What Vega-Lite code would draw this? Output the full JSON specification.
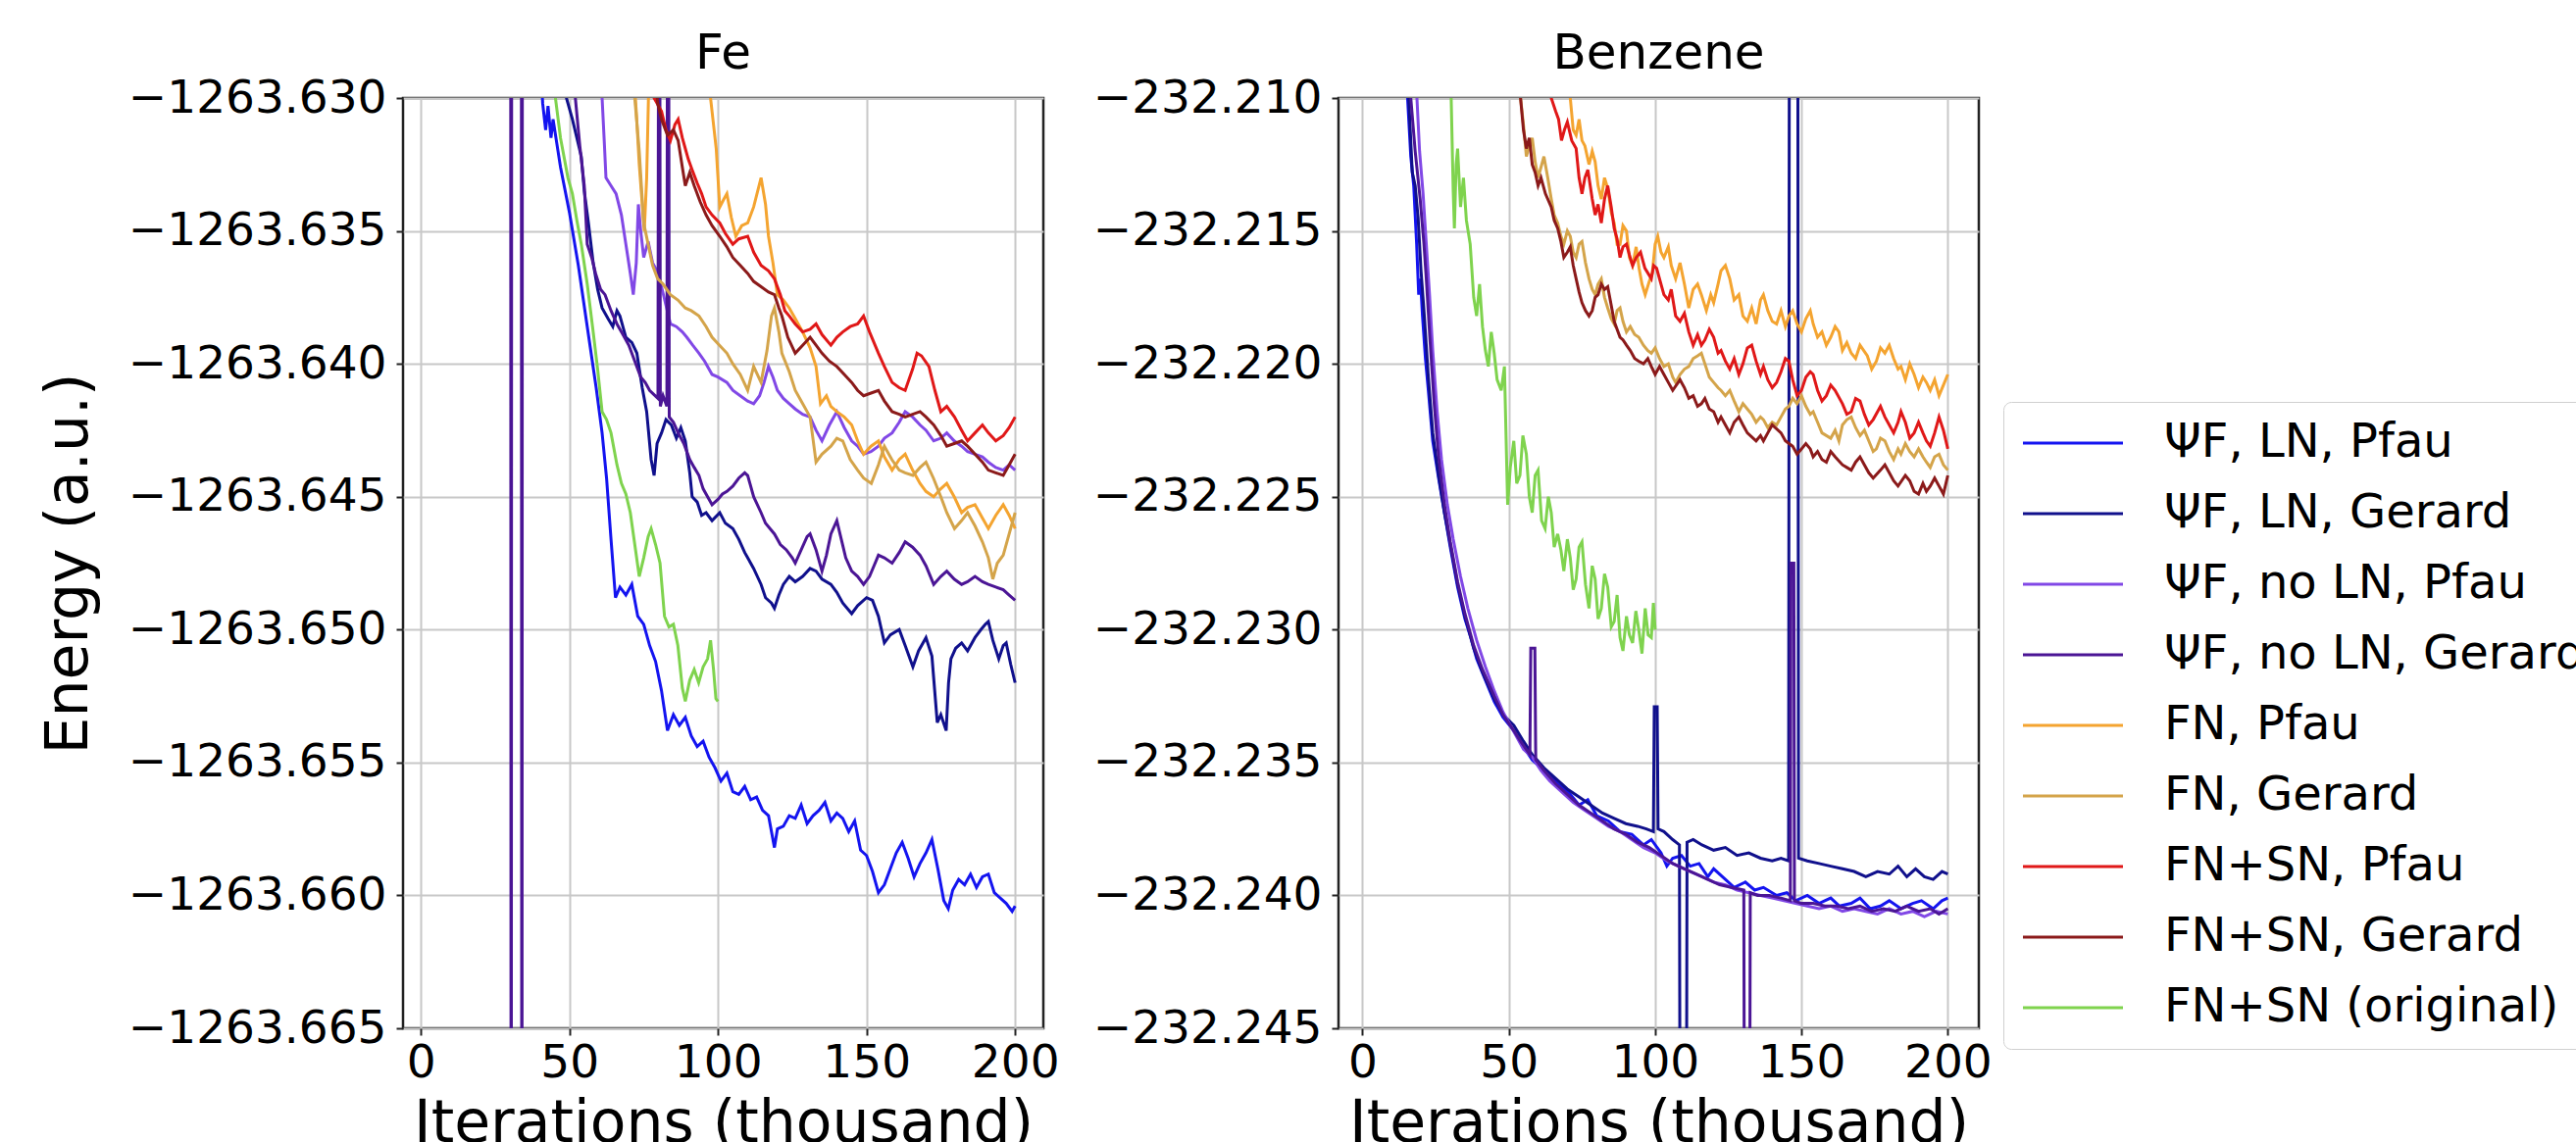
{
"$schema":"https://vega.github.io/schema/vega-lite/v6.json",
"background":"white",
"padding":{"left":38,"top":28,"right":0,"bottom":0},
"config":{
"font":"DejaVu Sans",
"view":{"stroke":"#222222","strokeWidth":2.5},
"axis":{"labelFont":"DejaVu Sans","labelFontSize":47,"labelColor":"#000000","labelLimit":0,"titleFont":"DejaVu Sans","titleFontSize":60,"titleFontWeight":"normal","titleColor":"#000000","titleLimit":0,"grid":true,"gridColor":"#c8c8c8","gridWidth":2,"domain":false,"tickColor":"#222222","tickWidth":2,"tickSize":7,"labelOverlap":false,"labelFlush":false},
"title":{"font":"DejaVu Sans","fontSize":50,"fontWeight":"normal","color":"#000000","baseline":"alphabetic","offset":-4,"anchor":"middle"},
"legend":{"orient":"none","legendX":1632,"legendY":310,"title":null,"symbolType":"M-1,0H3.636","symbolSize":1936,"symbolStrokeWidth":3,"labelFont":"DejaVu Sans","labelFontSize":48,"labelColor":"#000000","labelOffset":98,"padding":18,"rowPadding":24,"strokeColor":"#d0d0d0","fillColor":"#ffffff","cornerRadius":8,"labelLimit":0}
},
"datasets":{
"names":[{"s":"a","name":"ΨF, LN, Pfau"},{"s":"b","name":"ΨF, LN, Gerard"},{"s":"c","name":"ΨF, no LN, Pfau"},{"s":"d","name":"ΨF, no LN, Gerard"},{"s":"e","name":"FN, Pfau"},{"s":"f","name":"FN, Gerard"},{"s":"g","name":"FN+SN, Pfau"},{"s":"h","name":"FN+SN, Gerard"},{"s":"i","name":"FN+SN (original)"}],
"fe":[
{"s":"a","x":39.5,"e":-1263.627},{"s":"a","x":41,"e":-1263.6302},{"s":"a","x":42,"e":-1263.6312},{"s":"a","x":42.8,"e":-1263.6303},{"s":"a","x":43.8,"e":-1263.6315},{"s":"a","x":44.5,"e":-1263.6308},{"s":"a","x":47,"e":-1263.6326},{"s":"a","x":50,"e":-1263.6343},{"s":"a","x":53,"e":-1263.6363},{"s":"a","x":56,"e":-1263.6386},{"s":"a","x":59,"e":-1263.6409},{"s":"a","x":61,"e":-1263.6426},{"s":"a","x":62.5,"e":-1263.6443},{"s":"a","x":64,"e":-1263.6466},{"s":"a","x":65.5,"e":-1263.6488},{"s":"a","x":67,"e":-1263.6484},{"s":"a","x":69,"e":-1263.6487},{"s":"a","x":71,"e":-1263.6483},{"s":"a","x":73,"e":-1263.6495},{"s":"a","x":75,"e":-1263.6498},{"s":"a","x":77,"e":-1263.6506},{"s":"a","x":79,"e":-1263.6512},{"s":"a","x":81,"e":-1263.6523},{"s":"a","x":83,"e":-1263.6538},{"s":"a","x":85,"e":-1263.6532},{"s":"a","x":87,"e":-1263.6536},{"s":"a","x":89,"e":-1263.6533},{"s":"a","x":91,"e":-1263.654},{"s":"a","x":93,"e":-1263.6544},{"s":"a","x":95,"e":-1263.6542},{"s":"a","x":97,"e":-1263.6548},{"s":"a","x":99,"e":-1263.6552},{"s":"a","x":101,"e":-1263.6557},{"s":"a","x":103,"e":-1263.6554},{"s":"a","x":105,"e":-1263.6561},{"s":"a","x":107,"e":-1263.6562},{"s":"a","x":109,"e":-1263.6559},{"s":"a","x":111,"e":-1263.6564},{"s":"a","x":113,"e":-1263.6563},{"s":"a","x":115,"e":-1263.6568},{"s":"a","x":117,"e":-1263.657},{"s":"a","x":119,"e":-1263.6582},{"s":"a","x":120,"e":-1263.6575},{"s":"a","x":122,"e":-1263.6574},{"s":"a","x":124,"e":-1263.657},{"s":"a","x":126,"e":-1263.6571},{"s":"a","x":128,"e":-1263.6566},{"s":"a","x":130,"e":-1263.6573},{"s":"a","x":132,"e":-1263.657},{"s":"a","x":134,"e":-1263.6568},{"s":"a","x":136,"e":-1263.6565},{"s":"a","x":138,"e":-1263.6572},{"s":"a","x":140,"e":-1263.6569},{"s":"a","x":142,"e":-1263.6571},{"s":"a","x":144,"e":-1263.6576},{"s":"a","x":146,"e":-1263.6572},{"s":"a","x":148,"e":-1263.6583},{"s":"a","x":150,"e":-1263.6585},{"s":"a","x":152,"e":-1263.6591},{"s":"a","x":154,"e":-1263.6599},{"s":"a","x":156,"e":-1263.6596},{"s":"a","x":158,"e":-1263.659},{"s":"a","x":160,"e":-1263.6584},{"s":"a","x":162,"e":-1263.658},{"s":"a","x":164,"e":-1263.6586},{"s":"a","x":166,"e":-1263.6593},{"s":"a","x":168,"e":-1263.6588},{"s":"a","x":170,"e":-1263.6584},{"s":"a","x":172,"e":-1263.6579},{"s":"a","x":174,"e":-1263.659},{"s":"a","x":176,"e":-1263.6602},{"s":"a","x":177.5,"e":-1263.6605},{"s":"a","x":179,"e":-1263.6598},{"s":"a","x":181,"e":-1263.6594},{"s":"a","x":183,"e":-1263.6596},{"s":"a","x":185,"e":-1263.6592},{"s":"a","x":187,"e":-1263.6597},{"s":"a","x":189,"e":-1263.6593},{"s":"a","x":191,"e":-1263.6592},{"s":"a","x":193,"e":-1263.6599},{"s":"a","x":195,"e":-1263.6601},{"s":"a","x":197,"e":-1263.6603},{"s":"a","x":199,"e":-1263.6606},{"s":"a","x":200,"e":-1263.6604},
{"s":"b","x":47.5,"e":-1263.628},{"s":"b","x":49,"e":-1263.63},{"s":"b","x":51,"e":-1263.6308},{"s":"b","x":52.5,"e":-1263.6315},{"s":"b","x":54,"e":-1263.6322},{"s":"b","x":55,"e":-1263.6335},{"s":"b","x":56.4,"e":-1263.6347},{"s":"b","x":58,"e":-1263.6362},{"s":"b","x":59.5,"e":-1263.6372},{"s":"b","x":61,"e":-1263.6379},{"s":"b","x":63,"e":-1263.6383},{"s":"b","x":64.6,"e":-1263.6386},{"s":"b","x":66,"e":-1263.638},{"s":"b","x":67,"e":-1263.6382},{"s":"b","x":69,"e":-1263.639},{"s":"b","x":71,"e":-1263.6392},{"s":"b","x":72.7,"e":-1263.6396},{"s":"b","x":74.5,"e":-1263.6409},{"s":"b","x":76,"e":-1263.6418},{"s":"b","x":77.5,"e":-1263.6436},{"s":"b","x":78.5,"e":-1263.6442},{"s":"b","x":79.5,"e":-1263.643},{"s":"b","x":81,"e":-1263.6426},{"s":"b","x":82.5,"e":-1263.6421},{"s":"b","x":84.3,"e":-1263.6423},{"s":"b","x":86,"e":-1263.6428},{"s":"b","x":87.5,"e":-1263.6424},{"s":"b","x":89,"e":-1263.6429},{"s":"b","x":90.5,"e":-1263.6441},{"s":"b","x":91.3,"e":-1263.645},{"s":"b","x":93,"e":-1263.6452},{"s":"b","x":94.5,"e":-1263.6457},{"s":"b","x":96,"e":-1263.6456},{"s":"b","x":98,"e":-1263.6459},{"s":"b","x":100.6,"e":-1263.6456},{"s":"b","x":102.5,"e":-1263.646},{"s":"b","x":105,"e":-1263.6462},{"s":"b","x":107,"e":-1263.6466},{"s":"b","x":109,"e":-1263.6471},{"s":"b","x":110,"e":-1263.6473},{"s":"b","x":112,"e":-1263.6477},{"s":"b","x":114.5,"e":-1263.6483},{"s":"b","x":116,"e":-1263.6488},{"s":"b","x":118,"e":-1263.649},{"s":"b","x":119,"e":-1263.6492},{"s":"b","x":120.5,"e":-1263.6487},{"s":"b","x":122,"e":-1263.6483},{"s":"b","x":124,"e":-1263.648},{"s":"b","x":126,"e":-1263.6482},{"s":"b","x":128.5,"e":-1263.648},{"s":"b","x":131,"e":-1263.6477},{"s":"b","x":133,"e":-1263.6478},{"s":"b","x":135,"e":-1263.6481},{"s":"b","x":138,"e":-1263.6483},{"s":"b","x":140,"e":-1263.6486},{"s":"b","x":142,"e":-1263.649},{"s":"b","x":145,"e":-1263.6494},{"s":"b","x":147,"e":-1263.6491},{"s":"b","x":150,"e":-1263.6488},{"s":"b","x":152,"e":-1263.6489},{"s":"b","x":154,"e":-1263.6495},{"s":"b","x":156,"e":-1263.6505},{"s":"b","x":158,"e":-1263.6502},{"s":"b","x":161,"e":-1263.65},{"s":"b","x":163,"e":-1263.6506},{"s":"b","x":165.6,"e":-1263.6514},{"s":"b","x":167.5,"e":-1263.6508},{"s":"b","x":170,"e":-1263.6503},{"s":"b","x":172,"e":-1263.651},{"s":"b","x":173.8,"e":-1263.6535},{"s":"b","x":175,"e":-1263.6532},{"s":"b","x":176.8,"e":-1263.6538},{"s":"b","x":177.6,"e":-1263.652},{"s":"b","x":178.4,"e":-1263.6511},{"s":"b","x":180,"e":-1263.6507},{"s":"b","x":182,"e":-1263.6505},{"s":"b","x":184,"e":-1263.6508},{"s":"b","x":186.5,"e":-1263.6503},{"s":"b","x":188.5,"e":-1263.65},{"s":"b","x":190,"e":-1263.6498},{"s":"b","x":191,"e":-1263.6497},{"s":"b","x":192.5,"e":-1263.6504},{"s":"b","x":194.5,"e":-1263.6511},{"s":"b","x":196,"e":-1263.6506},{"s":"b","x":197,"e":-1263.6505},{"s":"b","x":198.5,"e":-1263.6513},{"s":"b","x":200,"e":-1263.652},
{"s":"c","x":59.5,"e":-1263.628},{"s":"c","x":61,"e":-1263.63},{"s":"c","x":61.8,"e":-1263.6318},{"s":"c","x":62.3,"e":-1263.633},{"s":"c","x":64,"e":-1263.6333},{"s":"c","x":65.7,"e":-1263.6336},{"s":"c","x":67.5,"e":-1263.6344},{"s":"c","x":69,"e":-1263.6355},{"s":"c","x":70.5,"e":-1263.6366},{"s":"c","x":71.5,"e":-1263.6374},{"s":"c","x":72.5,"e":-1263.6362},{"s":"c","x":73.2,"e":-1263.634},{"s":"c","x":74,"e":-1263.635},{"s":"c","x":75,"e":-1263.636},{"s":"c","x":76.5,"e":-1263.6354},{"s":"c","x":78,"e":-1263.6362},{"s":"c","x":79.5,"e":-1263.6365},{"s":"c","x":81,"e":-1263.6371},{"s":"c","x":82.5,"e":-1263.6378},{"s":"c","x":84,"e":-1263.6385},{"s":"c","x":86,"e":-1263.6386},{"s":"c","x":88,"e":-1263.6388},{"s":"c","x":89.5,"e":-1263.639},{"s":"c","x":91.5,"e":-1263.6393},{"s":"c","x":93.6,"e":-1263.6396},{"s":"c","x":95.5,"e":-1263.6399},{"s":"c","x":98,"e":-1263.6404},{"s":"c","x":100,"e":-1263.6405},{"s":"c","x":103,"e":-1263.6407},{"s":"c","x":105,"e":-1263.641},{"s":"c","x":107.5,"e":-1263.6412},{"s":"c","x":110,"e":-1263.6414},{"s":"c","x":112,"e":-1263.6415},{"s":"c","x":114,"e":-1263.6412},{"s":"c","x":115.5,"e":-1263.6407},{"s":"c","x":117,"e":-1263.6401},{"s":"c","x":118.5,"e":-1263.6405},{"s":"c","x":120,"e":-1263.641},{"s":"c","x":122,"e":-1263.6413},{"s":"c","x":124,"e":-1263.6415},{"s":"c","x":126,"e":-1263.6417},{"s":"c","x":128.5,"e":-1263.6419},{"s":"c","x":131,"e":-1263.642},{"s":"c","x":133,"e":-1263.6425},{"s":"c","x":135,"e":-1263.6429},{"s":"c","x":137.5,"e":-1263.6423},{"s":"c","x":140,"e":-1263.6418},{"s":"c","x":142.5,"e":-1263.6424},{"s":"c","x":145,"e":-1263.6429},{"s":"c","x":147,"e":-1263.6431},{"s":"c","x":149,"e":-1263.6434},{"s":"c","x":151.5,"e":-1263.6433},{"s":"c","x":154,"e":-1263.6431},{"s":"c","x":156,"e":-1263.6428},{"s":"c","x":158.6,"e":-1263.6426},{"s":"c","x":161,"e":-1263.6422},{"s":"c","x":163,"e":-1263.6418},{"s":"c","x":165.5,"e":-1263.642},{"s":"c","x":168,"e":-1263.6423},{"s":"c","x":170,"e":-1263.6425},{"s":"c","x":172.6,"e":-1263.6429},{"s":"c","x":175,"e":-1263.6428},{"s":"c","x":177,"e":-1263.6426},{"s":"c","x":179.5,"e":-1263.6429},{"s":"c","x":182,"e":-1263.6431},{"s":"c","x":184,"e":-1263.6433},{"s":"c","x":186.5,"e":-1263.6434},{"s":"c","x":189,"e":-1263.6435},{"s":"c","x":191,"e":-1263.6437},{"s":"c","x":193.5,"e":-1263.6439},{"s":"c","x":196,"e":-1263.644},{"s":"c","x":198,"e":-1263.6438},{"s":"c","x":200,"e":-1263.644},
{"s":"d","x":4,"e":-1263.61},{"s":"d","x":30.2,"e":-1263.61},{"s":"d","x":30.4,"e":-1263.69},{"s":"d","x":30.6,"e":-1263.61},{"s":"d","x":33.8,"e":-1263.61},{"s":"d","x":34,"e":-1263.69},{"s":"d","x":34.2,"e":-1263.61},{"s":"d","x":50.5,"e":-1263.628},{"s":"d","x":52,"e":-1263.63},{"s":"d","x":53.5,"e":-1263.6318},{"s":"d","x":55,"e":-1263.6333},{"s":"d","x":56,"e":-1263.6355},{"s":"d","x":57.5,"e":-1263.636},{"s":"d","x":58.8,"e":-1263.6366},{"s":"d","x":60.5,"e":-1263.6372},{"s":"d","x":62,"e":-1263.6374},{"s":"d","x":64,"e":-1263.638},{"s":"d","x":66,"e":-1263.6385},{"s":"d","x":68,"e":-1263.6389},{"s":"d","x":70,"e":-1263.6393},{"s":"d","x":72,"e":-1263.6399},{"s":"d","x":74,"e":-1263.6405},{"s":"d","x":75.5,"e":-1263.6407},{"s":"d","x":77,"e":-1263.641},{"s":"d","x":79.8,"e":-1263.6413},{"s":"d","x":80,"e":-1263.625},{"s":"d","x":80.4,"e":-1263.625},{"s":"d","x":80.6,"e":-1263.6416},{"s":"d","x":81.5,"e":-1263.6412},{"s":"d","x":82.8,"e":-1263.6416},{"s":"d","x":83,"e":-1263.625},{"s":"d","x":83.4,"e":-1263.625},{"s":"d","x":83.6,"e":-1263.642},{"s":"d","x":85,"e":-1263.6422},{"s":"d","x":86.6,"e":-1263.6426},{"s":"d","x":88.5,"e":-1263.643},{"s":"d","x":90.5,"e":-1263.6436},{"s":"d","x":92,"e":-1263.6439},{"s":"d","x":93.6,"e":-1263.6442},{"s":"d","x":95,"e":-1263.6447},{"s":"d","x":96.5,"e":-1263.645},{"s":"d","x":98,"e":-1263.6453},{"s":"d","x":100,"e":-1263.6451},{"s":"d","x":101.5,"e":-1263.6449},{"s":"d","x":103,"e":-1263.6448},{"s":"d","x":105,"e":-1263.6446},{"s":"d","x":107,"e":-1263.6443},{"s":"d","x":109,"e":-1263.6441},{"s":"d","x":110,"e":-1263.6442},{"s":"d","x":112,"e":-1263.645},{"s":"d","x":114.5,"e":-1263.6456},{"s":"d","x":116,"e":-1263.646},{"s":"d","x":117.5,"e":-1263.6462},{"s":"d","x":119,"e":-1263.6464},{"s":"d","x":121,"e":-1263.6468},{"s":"d","x":123,"e":-1263.647},{"s":"d","x":125,"e":-1263.6473},{"s":"d","x":126,"e":-1263.6475},{"s":"d","x":128,"e":-1263.647},{"s":"d","x":130,"e":-1263.6465},{"s":"d","x":131,"e":-1263.6464},{"s":"d","x":133,"e":-1263.647},{"s":"d","x":135,"e":-1263.6478},{"s":"d","x":136.5,"e":-1263.6472},{"s":"d","x":138,"e":-1263.6464},{"s":"d","x":140,"e":-1263.6459},{"s":"d","x":141.5,"e":-1263.6466},{"s":"d","x":143,"e":-1263.6473},{"s":"d","x":145,"e":-1263.6478},{"s":"d","x":147,"e":-1263.648},{"s":"d","x":149,"e":-1263.6483},{"s":"d","x":151,"e":-1263.648},{"s":"d","x":152.5,"e":-1263.6476},{"s":"d","x":154,"e":-1263.6472},{"s":"d","x":156,"e":-1263.6473},{"s":"d","x":158.6,"e":-1263.6475},{"s":"d","x":161,"e":-1263.6471},{"s":"d","x":163,"e":-1263.6467},{"s":"d","x":165.5,"e":-1263.6469},{"s":"d","x":168,"e":-1263.6472},{"s":"d","x":170,"e":-1263.6476},{"s":"d","x":172.6,"e":-1263.6483},{"s":"d","x":175,"e":-1263.648},{"s":"d","x":177,"e":-1263.6478},{"s":"d","x":179.5,"e":-1263.6481},{"s":"d","x":182,"e":-1263.6483},{"s":"d","x":184,"e":-1263.6482},{"s":"d","x":186.5,"e":-1263.648},{"s":"d","x":189,"e":-1263.6482},{"s":"d","x":191,"e":-1263.6483},{"s":"d","x":193.5,"e":-1263.6484},{"s":"d","x":196,"e":-1263.6485},{"s":"d","x":198,"e":-1263.6487},{"s":"d","x":200,"e":-1263.6489},
{"s":"e","x":71,"e":-1263.628},{"s":"e","x":72.5,"e":-1263.6305},{"s":"e","x":73.5,"e":-1263.6325},{"s":"e","x":74.5,"e":-1263.634},{"s":"e","x":75.2,"e":-1263.635},{"s":"e","x":76,"e":-1263.633},{"s":"e","x":77,"e":-1263.628},{"s":"e","x":96,"e":-1263.628},{"s":"e","x":97.5,"e":-1263.63},{"s":"e","x":98.5,"e":-1263.631},{"s":"e","x":99.4,"e":-1263.6319},{"s":"e","x":100.6,"e":-1263.6341},{"s":"e","x":102,"e":-1263.6338},{"s":"e","x":103,"e":-1263.6336},{"s":"e","x":104.5,"e":-1263.6345},{"s":"e","x":106,"e":-1263.6352},{"s":"e","x":108,"e":-1263.6348},{"s":"e","x":110,"e":-1263.6347},{"s":"e","x":112,"e":-1263.6341},{"s":"e","x":114.5,"e":-1263.633},{"s":"e","x":116,"e":-1263.634},{"s":"e","x":117,"e":-1263.6352},{"s":"e","x":118.5,"e":-1263.6362},{"s":"e","x":120,"e":-1263.6374},{"s":"e","x":122,"e":-1263.6376},{"s":"e","x":124,"e":-1263.6379},{"s":"e","x":126,"e":-1263.6383},{"s":"e","x":128.5,"e":-1263.6388},{"s":"e","x":131,"e":-1263.6394},{"s":"e","x":133,"e":-1263.6401},{"s":"e","x":134.5,"e":-1263.6415},{"s":"e","x":136.5,"e":-1263.6412},{"s":"e","x":138,"e":-1263.6416},{"s":"e","x":140,"e":-1263.6418},{"s":"e","x":142.5,"e":-1263.642},{"s":"e","x":145,"e":-1263.6423},{"s":"e","x":147,"e":-1263.6429},{"s":"e","x":149,"e":-1263.6434},{"s":"e","x":151.5,"e":-1263.6431},{"s":"e","x":154,"e":-1263.6429},{"s":"e","x":156,"e":-1263.6435},{"s":"e","x":158.6,"e":-1263.644},{"s":"e","x":161,"e":-1263.6436},{"s":"e","x":163,"e":-1263.6434},{"s":"e","x":165.5,"e":-1263.644},{"s":"e","x":168,"e":-1263.6445},{"s":"e","x":170,"e":-1263.6448},{"s":"e","x":172.6,"e":-1263.645},{"s":"e","x":175,"e":-1263.6447},{"s":"e","x":177,"e":-1263.6445},{"s":"e","x":179.5,"e":-1263.645},{"s":"e","x":182,"e":-1263.6456},{"s":"e","x":184,"e":-1263.6454},{"s":"e","x":186.5,"e":-1263.6453},{"s":"e","x":189,"e":-1263.6458},{"s":"e","x":191,"e":-1263.6462},{"s":"e","x":193.5,"e":-1263.6457},{"s":"e","x":196,"e":-1263.6453},{"s":"e","x":198,"e":-1263.6457},{"s":"e","x":200,"e":-1263.6462},
{"s":"f","x":70.5,"e":-1263.628},{"s":"f","x":72,"e":-1263.63},{"s":"f","x":73.5,"e":-1263.632},{"s":"f","x":75,"e":-1263.6347},{"s":"f","x":76.5,"e":-1263.6355},{"s":"f","x":78,"e":-1263.6363},{"s":"f","x":79.7,"e":-1263.6368},{"s":"f","x":81.5,"e":-1263.637},{"s":"f","x":84,"e":-1263.6374},{"s":"f","x":86.5,"e":-1263.6376},{"s":"f","x":89,"e":-1263.6379},{"s":"f","x":91,"e":-1263.638},{"s":"f","x":93.6,"e":-1263.6382},{"s":"f","x":96,"e":-1263.6386},{"s":"f","x":98,"e":-1263.639},{"s":"f","x":100.5,"e":-1263.6393},{"s":"f","x":103,"e":-1263.6396},{"s":"f","x":105,"e":-1263.64},{"s":"f","x":107.5,"e":-1263.6404},{"s":"f","x":110,"e":-1263.641},{"s":"f","x":112,"e":-1263.6401},{"s":"f","x":114.5,"e":-1263.6407},{"s":"f","x":116.5,"e":-1263.6395},{"s":"f","x":118,"e":-1263.6382},{"s":"f","x":119,"e":-1263.6379},{"s":"f","x":120.5,"e":-1263.6388},{"s":"f","x":121.5,"e":-1263.6396},{"s":"f","x":124,"e":-1263.6403},{"s":"f","x":126,"e":-1263.641},{"s":"f","x":128.5,"e":-1263.6415},{"s":"f","x":131,"e":-1263.642},{"s":"f","x":133,"e":-1263.6437},{"s":"f","x":135,"e":-1263.6434},{"s":"f","x":138,"e":-1263.6431},{"s":"f","x":140,"e":-1263.6428},{"s":"f","x":142,"e":-1263.6429},{"s":"f","x":144.5,"e":-1263.6436},{"s":"f","x":147,"e":-1263.644},{"s":"f","x":149,"e":-1263.6443},{"s":"f","x":151.6,"e":-1263.6445},{"s":"f","x":154,"e":-1263.6438},{"s":"f","x":156,"e":-1263.6431},{"s":"f","x":158.5,"e":-1263.6436},{"s":"f","x":161,"e":-1263.644},{"s":"f","x":163,"e":-1263.6441},{"s":"f","x":165.6,"e":-1263.6442},{"s":"f","x":168,"e":-1263.6439},{"s":"f","x":170,"e":-1263.6437},{"s":"f","x":172.5,"e":-1263.6443},{"s":"f","x":175,"e":-1263.645},{"s":"f","x":177,"e":-1263.6456},{"s":"f","x":179.6,"e":-1263.6462},{"s":"f","x":182,"e":-1263.6459},{"s":"f","x":184,"e":-1263.6456},{"s":"f","x":186.5,"e":-1263.6461},{"s":"f","x":189,"e":-1263.6467},{"s":"f","x":191,"e":-1263.6473},{"s":"f","x":192.5,"e":-1263.6481},{"s":"f","x":194,"e":-1263.6475},{"s":"f","x":196,"e":-1263.6472},{"s":"f","x":198,"e":-1263.6464},{"s":"f","x":200,"e":-1263.6456},
{"s":"g","x":77,"e":-1263.628},{"s":"g","x":78.5,"e":-1263.63},{"s":"g","x":80,"e":-1263.6303},{"s":"g","x":81,"e":-1263.6305},{"s":"g","x":82.5,"e":-1263.6312},{"s":"g","x":84,"e":-1263.6316},{"s":"g","x":85.5,"e":-1263.631},{"s":"g","x":86.6,"e":-1263.6308},{"s":"g","x":88,"e":-1263.6315},{"s":"g","x":89,"e":-1263.6319},{"s":"g","x":90,"e":-1263.6323},{"s":"g","x":91.3,"e":-1263.6327},{"s":"g","x":93,"e":-1263.6332},{"s":"g","x":94.5,"e":-1263.6336},{"s":"g","x":96,"e":-1263.6341},{"s":"g","x":98,"e":-1263.6344},{"s":"g","x":100.6,"e":-1263.6347},{"s":"g","x":102.5,"e":-1263.6351},{"s":"g","x":105,"e":-1263.6355},{"s":"g","x":107,"e":-1263.6353},{"s":"g","x":110,"e":-1263.6352},{"s":"g","x":112,"e":-1263.6358},{"s":"g","x":114.5,"e":-1263.6363},{"s":"g","x":117,"e":-1263.6365},{"s":"g","x":119,"e":-1263.6368},{"s":"g","x":121,"e":-1263.6374},{"s":"g","x":122.5,"e":-1263.638},{"s":"g","x":124,"e":-1263.6382},{"s":"g","x":126,"e":-1263.6385},{"s":"g","x":128.5,"e":-1263.6388},{"s":"g","x":131,"e":-1263.6387},{"s":"g","x":133,"e":-1263.6385},{"s":"g","x":135,"e":-1263.6389},{"s":"g","x":138,"e":-1263.6393},{"s":"g","x":140,"e":-1263.639},{"s":"g","x":142,"e":-1263.6388},{"s":"g","x":144.5,"e":-1263.6386},{"s":"g","x":147,"e":-1263.6385},{"s":"g","x":149,"e":-1263.6382},{"s":"g","x":151,"e":-1263.6388},{"s":"g","x":154,"e":-1263.6396},{"s":"g","x":156,"e":-1263.6401},{"s":"g","x":158.6,"e":-1263.6407},{"s":"g","x":161,"e":-1263.6409},{"s":"g","x":163,"e":-1263.641},{"s":"g","x":165.5,"e":-1263.6402},{"s":"g","x":167,"e":-1263.6396},{"s":"g","x":168.5,"e":-1263.6397},{"s":"g","x":171,"e":-1263.6401},{"s":"g","x":173,"e":-1263.641},{"s":"g","x":175,"e":-1263.6418},{"s":"g","x":177,"e":-1263.6416},{"s":"g","x":179.6,"e":-1263.642},{"s":"g","x":182,"e":-1263.6425},{"s":"g","x":184,"e":-1263.6429},{"s":"g","x":186.5,"e":-1263.6426},{"s":"g","x":189,"e":-1263.6423},{"s":"g","x":191,"e":-1263.6426},{"s":"g","x":193.5,"e":-1263.6429},{"s":"g","x":196,"e":-1263.6427},{"s":"g","x":198,"e":-1263.6424},{"s":"g","x":200,"e":-1263.642},
{"s":"h","x":78,"e":-1263.628},{"s":"h","x":79.7,"e":-1263.6302},{"s":"h","x":81,"e":-1263.6308},{"s":"h","x":83,"e":-1263.6314},{"s":"h","x":85,"e":-1263.6312},{"s":"h","x":86.6,"e":-1263.6316},{"s":"h","x":88,"e":-1263.6326},{"s":"h","x":89,"e":-1263.6333},{"s":"h","x":90.5,"e":-1263.6328},{"s":"h","x":92,"e":-1263.6333},{"s":"h","x":94,"e":-1263.6339},{"s":"h","x":96,"e":-1263.6344},{"s":"h","x":98,"e":-1263.6348},{"s":"h","x":100.6,"e":-1263.6352},{"s":"h","x":103,"e":-1263.6356},{"s":"h","x":105,"e":-1263.636},{"s":"h","x":107.5,"e":-1263.6363},{"s":"h","x":110,"e":-1263.6366},{"s":"h","x":112,"e":-1263.6369},{"s":"h","x":114.5,"e":-1263.6371},{"s":"h","x":117,"e":-1263.6373},{"s":"h","x":119,"e":-1263.6374},{"s":"h","x":120.5,"e":-1263.6379},{"s":"h","x":121.5,"e":-1263.6382},{"s":"h","x":123.5,"e":-1263.639},{"s":"h","x":126,"e":-1263.6396},{"s":"h","x":128.5,"e":-1263.6393},{"s":"h","x":131,"e":-1263.639},{"s":"h","x":133,"e":-1263.6393},{"s":"h","x":135,"e":-1263.6396},{"s":"h","x":137.5,"e":-1263.6399},{"s":"h","x":140,"e":-1263.6401},{"s":"h","x":142.5,"e":-1263.6404},{"s":"h","x":145,"e":-1263.6407},{"s":"h","x":147,"e":-1263.641},{"s":"h","x":149,"e":-1263.6412},{"s":"h","x":151.5,"e":-1263.6411},{"s":"h","x":154,"e":-1263.641},{"s":"h","x":156,"e":-1263.6414},{"s":"h","x":158.6,"e":-1263.6418},{"s":"h","x":161,"e":-1263.6419},{"s":"h","x":163,"e":-1263.642},{"s":"h","x":165.5,"e":-1263.6419},{"s":"h","x":168,"e":-1263.6418},{"s":"h","x":170,"e":-1263.642},{"s":"h","x":172.6,"e":-1263.6423},{"s":"h","x":175,"e":-1263.6427},{"s":"h","x":177,"e":-1263.6431},{"s":"h","x":179.5,"e":-1263.643},{"s":"h","x":182,"e":-1263.6429},{"s":"h","x":184,"e":-1263.6431},{"s":"h","x":186.5,"e":-1263.6434},{"s":"h","x":189,"e":-1263.6437},{"s":"h","x":191,"e":-1263.644},{"s":"h","x":193.5,"e":-1263.6441},{"s":"h","x":196,"e":-1263.6442},{"s":"h","x":198,"e":-1263.6438},{"s":"h","x":200,"e":-1263.6434},
{"s":"i","x":44,"e":-1263.628},{"s":"i","x":45.3,"e":-1263.63},{"s":"i","x":47,"e":-1263.6315},{"s":"i","x":49.5,"e":-1263.633},{"s":"i","x":51,"e":-1263.6336},{"s":"i","x":52.5,"e":-1263.6346},{"s":"i","x":54,"e":-1263.6355},{"s":"i","x":56,"e":-1263.637},{"s":"i","x":58,"e":-1263.6388},{"s":"i","x":59.5,"e":-1263.6402},{"s":"i","x":61,"e":-1263.6418},{"s":"i","x":62.5,"e":-1263.6421},{"s":"i","x":64,"e":-1263.6426},{"s":"i","x":66,"e":-1263.6438},{"s":"i","x":67.5,"e":-1263.6445},{"s":"i","x":69,"e":-1263.6449},{"s":"i","x":70.5,"e":-1263.6456},{"s":"i","x":72,"e":-1263.6468},{"s":"i","x":73.5,"e":-1263.648},{"s":"i","x":75,"e":-1263.6473},{"s":"i","x":76.5,"e":-1263.6465},{"s":"i","x":77.5,"e":-1263.6462},{"s":"i","x":79,"e":-1263.6468},{"s":"i","x":80.5,"e":-1263.6475},{"s":"i","x":82,"e":-1263.6495},{"s":"i","x":83.5,"e":-1263.6499},{"s":"i","x":85,"e":-1263.6498},{"s":"i","x":86.5,"e":-1263.6506},{"s":"i","x":88,"e":-1263.6522},{"s":"i","x":89,"e":-1263.6527},{"s":"i","x":90.5,"e":-1263.6519},{"s":"i","x":92,"e":-1263.6515},{"s":"i","x":93.5,"e":-1263.652},{"s":"i","x":95,"e":-1263.6514},{"s":"i","x":96.5,"e":-1263.6511},{"s":"i","x":97.5,"e":-1263.6504},{"s":"i","x":98.5,"e":-1263.6515},{"s":"i","x":99.3,"e":-1263.6526},{"s":"i","x":100,"e":-1263.6527}
],
"bz":[
{"s":"a","x":14,"e":-232.207},{"s":"a","x":15.4,"e":-232.21},{"s":"a","x":16.5,"e":-232.2122},{"s":"a","x":17.5,"e":-232.2133},{"s":"a","x":18.5,"e":-232.2155},{"s":"a","x":19.2,"e":-232.2174},{"s":"a","x":19.8,"e":-232.2168},{"s":"a","x":20.5,"e":-232.2182},{"s":"a","x":21.5,"e":-232.2198},{"s":"a","x":22.5,"e":-232.221},{"s":"a","x":24,"e":-232.2229},{"s":"a","x":26,"e":-232.2243},{"s":"a","x":28,"e":-232.2256},{"s":"a","x":30,"e":-232.2269},{"s":"a","x":32.5,"e":-232.2284},{"s":"a","x":35,"e":-232.2296},{"s":"a","x":37,"e":-232.2303},{"s":"a","x":39,"e":-232.2311},{"s":"a","x":42,"e":-232.2319},{"s":"a","x":45,"e":-232.2327},{"s":"a","x":48,"e":-232.2333},{"s":"a","x":51.7,"e":-232.2338},{"s":"a","x":55,"e":-232.2344},{"s":"a","x":58,"e":-232.2349},{"s":"a","x":62,"e":-232.2353},{"s":"a","x":66.7,"e":-232.2358},{"s":"a","x":71,"e":-232.2362},{"s":"a","x":74,"e":-232.2366},{"s":"a","x":77,"e":-232.2364},{"s":"a","x":80,"e":-232.237},{"s":"a","x":84,"e":-232.2372},{"s":"a","x":88,"e":-232.2376},{"s":"a","x":92,"e":-232.2377},{"s":"a","x":96,"e":-232.2381},{"s":"a","x":98.7,"e":-232.2379},{"s":"a","x":102,"e":-232.2384},{"s":"a","x":104,"e":-232.2389},{"s":"a","x":106,"e":-232.2386},{"s":"a","x":109,"e":-232.2385},{"s":"a","x":112,"e":-232.2389},{"s":"a","x":115,"e":-232.2388},{"s":"a","x":118,"e":-232.2393},{"s":"a","x":120,"e":-232.239},{"s":"a","x":124,"e":-232.2394},{"s":"a","x":127,"e":-232.2397},{"s":"a","x":130.8,"e":-232.2395},{"s":"a","x":134,"e":-232.2398},{"s":"a","x":137,"e":-232.2397},{"s":"a","x":141.5,"e":-232.24},{"s":"a","x":145,"e":-232.2399},{"s":"a","x":148,"e":-232.2402},{"s":"a","x":152,"e":-232.24},{"s":"a","x":156,"e":-232.2403},{"s":"a","x":160,"e":-232.2401},{"s":"a","x":163,"e":-232.2404},{"s":"a","x":167,"e":-232.2403},{"s":"a","x":170,"e":-232.2401},{"s":"a","x":173.5,"e":-232.2405},{"s":"a","x":177,"e":-232.2404},{"s":"a","x":180,"e":-232.2402},{"s":"a","x":184,"e":-232.2405},{"s":"a","x":188,"e":-232.2403},{"s":"a","x":191,"e":-232.2402},{"s":"a","x":195,"e":-232.2405},{"s":"a","x":198,"e":-232.2402},{"s":"a","x":200,"e":-232.2401},
{"s":"b","x":14.5,"e":-232.207},{"s":"b","x":15.8,"e":-232.21},{"s":"b","x":17,"e":-232.2128},{"s":"b","x":18,"e":-232.2133},{"s":"b","x":19,"e":-232.2145},{"s":"b","x":20,"e":-232.2165},{"s":"b","x":21,"e":-232.218},{"s":"b","x":22.5,"e":-232.2205},{"s":"b","x":24,"e":-232.2226},{"s":"b","x":26,"e":-232.2242},{"s":"b","x":28,"e":-232.2256},{"s":"b","x":30,"e":-232.2268},{"s":"b","x":32.5,"e":-232.2283},{"s":"b","x":35,"e":-232.2295},{"s":"b","x":38,"e":-232.2307},{"s":"b","x":41,"e":-232.2316},{"s":"b","x":45,"e":-232.2326},{"s":"b","x":48,"e":-232.2332},{"s":"b","x":51.7,"e":-232.2336},{"s":"b","x":55,"e":-232.2342},{"s":"b","x":58,"e":-232.2347},{"s":"b","x":62,"e":-232.2352},{"s":"b","x":66,"e":-232.2356},{"s":"b","x":70,"e":-232.236},{"s":"b","x":74,"e":-232.2363},{"s":"b","x":78,"e":-232.2366},{"s":"b","x":82,"e":-232.2369},{"s":"b","x":86,"e":-232.2371},{"s":"b","x":90,"e":-232.2373},{"s":"b","x":94,"e":-232.2374},{"s":"b","x":97,"e":-232.2375},{"s":"b","x":99.4,"e":-232.2376},{"s":"b","x":99.7,"e":-232.2329},{"s":"b","x":100.7,"e":-232.2329},{"s":"b","x":101,"e":-232.2375},{"s":"b","x":103,"e":-232.2376},{"s":"b","x":106,"e":-232.2379},{"s":"b","x":108.3,"e":-232.2381},{"s":"b","x":108.6,"e":-232.255},{"s":"b","x":110.6,"e":-232.255},{"s":"b","x":110.9,"e":-232.238},{"s":"b","x":113,"e":-232.2379},{"s":"b","x":116,"e":-232.2381},{"s":"b","x":120,"e":-232.2383},{"s":"b","x":124,"e":-232.2382},{"s":"b","x":128,"e":-232.2385},{"s":"b","x":132,"e":-232.2384},{"s":"b","x":136,"e":-232.2386},{"s":"b","x":140,"e":-232.2387},{"s":"b","x":143,"e":-232.2386},{"s":"b","x":145.6,"e":-232.2387},{"s":"b","x":145.9,"e":-232.2},{"s":"b","x":148.7,"e":-232.2},{"s":"b","x":149,"e":-232.2386},{"s":"b","x":152,"e":-232.2387},{"s":"b","x":156,"e":-232.2388},{"s":"b","x":160,"e":-232.2389},{"s":"b","x":164,"e":-232.239},{"s":"b","x":168,"e":-232.2391},{"s":"b","x":172,"e":-232.2393},{"s":"b","x":176,"e":-232.2391},{"s":"b","x":180,"e":-232.2392},{"s":"b","x":183,"e":-232.2389},{"s":"b","x":186,"e":-232.2393},{"s":"b","x":189,"e":-232.239},{"s":"b","x":192,"e":-232.2393},{"s":"b","x":195,"e":-232.2394},{"s":"b","x":198,"e":-232.2391},{"s":"b","x":200,"e":-232.2392},
{"s":"c","x":17,"e":-232.207},{"s":"c","x":18.6,"e":-232.21},{"s":"c","x":19.5,"e":-232.212},{"s":"c","x":20.7,"e":-232.2136},{"s":"c","x":21.8,"e":-232.2155},{"s":"c","x":22.9,"e":-232.2174},{"s":"c","x":24,"e":-232.2195},{"s":"c","x":25.5,"e":-232.2218},{"s":"c","x":27,"e":-232.2236},{"s":"c","x":29,"e":-232.2253},{"s":"c","x":31,"e":-232.2266},{"s":"c","x":33.5,"e":-232.228},{"s":"c","x":36,"e":-232.2292},{"s":"c","x":39,"e":-232.2304},{"s":"c","x":42,"e":-232.2314},{"s":"c","x":45,"e":-232.2323},{"s":"c","x":48,"e":-232.2331},{"s":"c","x":52,"e":-232.2339},{"s":"c","x":55,"e":-232.2345},{"s":"c","x":58,"e":-232.2348},{"s":"c","x":61,"e":-232.2353},{"s":"c","x":64,"e":-232.2357},{"s":"c","x":68,"e":-232.2361},{"s":"c","x":72,"e":-232.2365},{"s":"c","x":76,"e":-232.2368},{"s":"c","x":80,"e":-232.2371},{"s":"c","x":84,"e":-232.2374},{"s":"c","x":88,"e":-232.2376},{"s":"c","x":92,"e":-232.2379},{"s":"c","x":96,"e":-232.2382},{"s":"c","x":100,"e":-232.2384},{"s":"c","x":104,"e":-232.2387},{"s":"c","x":108,"e":-232.2389},{"s":"c","x":112,"e":-232.2391},{"s":"c","x":116,"e":-232.2393},{"s":"c","x":120,"e":-232.2395},{"s":"c","x":124,"e":-232.2396},{"s":"c","x":128,"e":-232.2398},{"s":"c","x":132,"e":-232.2399},{"s":"c","x":136,"e":-232.24},{"s":"c","x":140,"e":-232.2401},{"s":"c","x":144,"e":-232.2402},{"s":"c","x":148,"e":-232.2403},{"s":"c","x":152,"e":-232.2404},{"s":"c","x":156,"e":-232.2405},{"s":"c","x":160,"e":-232.2404},{"s":"c","x":164,"e":-232.2406},{"s":"c","x":168,"e":-232.2405},{"s":"c","x":172,"e":-232.2406},{"s":"c","x":176,"e":-232.2407},{"s":"c","x":180,"e":-232.2405},{"s":"c","x":184,"e":-232.2407},{"s":"c","x":188,"e":-232.2406},{"s":"c","x":192,"e":-232.2408},{"s":"c","x":196,"e":-232.2406},{"s":"c","x":200,"e":-232.2407},
{"s":"d","x":15,"e":-232.207},{"s":"d","x":16.5,"e":-232.21},{"s":"d","x":18,"e":-232.212},{"s":"d","x":19.7,"e":-232.2138},{"s":"d","x":21,"e":-232.2155},{"s":"d","x":21.8,"e":-232.2168},{"s":"d","x":23,"e":-232.219},{"s":"d","x":24.5,"e":-232.2215},{"s":"d","x":26,"e":-232.2235},{"s":"d","x":28,"e":-232.2253},{"s":"d","x":30,"e":-232.2267},{"s":"d","x":32.5,"e":-232.2282},{"s":"d","x":35,"e":-232.2294},{"s":"d","x":38,"e":-232.2306},{"s":"d","x":41,"e":-232.2315},{"s":"d","x":45,"e":-232.2325},{"s":"d","x":48,"e":-232.2332},{"s":"d","x":51.7,"e":-232.2338},{"s":"d","x":54,"e":-232.2342},{"s":"d","x":57.2,"e":-232.2347},{"s":"d","x":57.5,"e":-232.2307},{"s":"d","x":58.9,"e":-232.2307},{"s":"d","x":59.2,"e":-232.2349},{"s":"d","x":62,"e":-232.2353},{"s":"d","x":66,"e":-232.2358},{"s":"d","x":70,"e":-232.2362},{"s":"d","x":74,"e":-232.2366},{"s":"d","x":78,"e":-232.2369},{"s":"d","x":82,"e":-232.2372},{"s":"d","x":86,"e":-232.2375},{"s":"d","x":90,"e":-232.2377},{"s":"d","x":94,"e":-232.238},{"s":"d","x":98,"e":-232.2382},{"s":"d","x":102,"e":-232.2385},{"s":"d","x":106,"e":-232.2388},{"s":"d","x":110,"e":-232.239},{"s":"d","x":114,"e":-232.2392},{"s":"d","x":118,"e":-232.2394},{"s":"d","x":122,"e":-232.2396},{"s":"d","x":126,"e":-232.2397},{"s":"d","x":130.3,"e":-232.2398},{"s":"d","x":130.6,"e":-232.255},{"s":"d","x":132.2,"e":-232.255},{"s":"d","x":132.5,"e":-232.2399},{"s":"d","x":135,"e":-232.24},{"s":"d","x":139,"e":-232.24},{"s":"d","x":143,"e":-232.2401},{"s":"d","x":146.2,"e":-232.2402},{"s":"d","x":146.4,"e":-232.2275},{"s":"d","x":147.4,"e":-232.2275},{"s":"d","x":147.6,"e":-232.2402},{"s":"d","x":150,"e":-232.2403},{"s":"d","x":154,"e":-232.2403},{"s":"d","x":158,"e":-232.2404},{"s":"d","x":162,"e":-232.2404},{"s":"d","x":166,"e":-232.2405},{"s":"d","x":170,"e":-232.2404},{"s":"d","x":174,"e":-232.2406},{"s":"d","x":178,"e":-232.2405},{"s":"d","x":182,"e":-232.2406},{"s":"d","x":186,"e":-232.2404},{"s":"d","x":190,"e":-232.2406},{"s":"d","x":194,"e":-232.2405},{"s":"d","x":197,"e":-232.2407},{"s":"d","x":200,"e":-232.2405},
{"s":"e","x":69.5,"e":-232.208},{"s":"e","x":71,"e":-232.21},{"s":"e","x":72,"e":-232.2112},{"s":"e","x":73,"e":-232.2114},{"s":"e","x":74,"e":-232.2108},{"s":"e","x":75,"e":-232.2116},{"s":"e","x":76,"e":-232.2118},{"s":"e","x":77.4,"e":-232.2125},{"s":"e","x":78.5,"e":-232.212},{"s":"e","x":79.5,"e":-232.2124},{"s":"e","x":80.5,"e":-232.2133},{"s":"e","x":81.6,"e":-232.2138},{"s":"e","x":82.7,"e":-232.213},{"s":"e","x":83.8,"e":-232.2134},{"s":"e","x":85,"e":-232.2143},{"s":"e","x":86,"e":-232.2147},{"s":"e","x":87,"e":-232.2155},{"s":"e","x":88,"e":-232.2155},{"s":"e","x":89,"e":-232.2148},{"s":"e","x":90.2,"e":-232.215},{"s":"e","x":91.2,"e":-232.216},{"s":"e","x":92.3,"e":-232.2163},{"s":"e","x":93.5,"e":-232.2156},{"s":"e","x":94.5,"e":-232.2164},{"s":"e","x":95.5,"e":-232.217},{"s":"e","x":96.6,"e":-232.2174},{"s":"e","x":98,"e":-232.2169},{"s":"e","x":99,"e":-232.2166},{"s":"e","x":100,"e":-232.2155},{"s":"e","x":100.9,"e":-232.2152},{"s":"e","x":102,"e":-232.2158},{"s":"e","x":103,"e":-232.216},{"s":"e","x":104.5,"e":-232.2156},{"s":"e","x":105.5,"e":-232.2163},{"s":"e","x":107,"e":-232.2168},{"s":"e","x":108.5,"e":-232.2162},{"s":"e","x":110,"e":-232.217},{"s":"e","x":111.5,"e":-232.2179},{"s":"e","x":113,"e":-232.2172},{"s":"e","x":114.5,"e":-232.217},{"s":"e","x":115.8,"e":-232.2174},{"s":"e","x":117.5,"e":-232.218},{"s":"e","x":119,"e":-232.2174},{"s":"e","x":120,"e":-232.2177},{"s":"e","x":121.5,"e":-232.217},{"s":"e","x":122.5,"e":-232.2165},{"s":"e","x":124,"e":-232.2163},{"s":"e","x":125.5,"e":-232.2168},{"s":"e","x":127,"e":-232.2176},{"s":"e","x":128.6,"e":-232.2174},{"s":"e","x":130,"e":-232.2182},{"s":"e","x":131.5,"e":-232.2184},{"s":"e","x":133,"e":-232.2179},{"s":"e","x":134.5,"e":-232.2185},{"s":"e","x":136,"e":-232.2176},{"s":"e","x":137,"e":-232.2174},{"s":"e","x":138.5,"e":-232.218},{"s":"e","x":140,"e":-232.2184},{"s":"e","x":141.5,"e":-232.2185},{"s":"e","x":143,"e":-232.218},{"s":"e","x":144.5,"e":-232.2186},{"s":"e","x":145.7,"e":-232.2182},{"s":"e","x":147,"e":-232.218},{"s":"e","x":148.5,"e":-232.2185},{"s":"e","x":150,"e":-232.2188},{"s":"e","x":151.5,"e":-232.2183},{"s":"e","x":153,"e":-232.218},{"s":"e","x":154,"e":-232.2185},{"s":"e","x":155.5,"e":-232.219},{"s":"e","x":157,"e":-232.2188},{"s":"e","x":158.5,"e":-232.2193},{"s":"e","x":160,"e":-232.219},{"s":"e","x":161.5,"e":-232.2186},{"s":"e","x":162.8,"e":-232.2188},{"s":"e","x":164,"e":-232.2195},{"s":"e","x":165.5,"e":-232.2192},{"s":"e","x":167,"e":-232.2196},{"s":"e","x":168.5,"e":-232.2198},{"s":"e","x":170,"e":-232.2193},{"s":"e","x":172.5,"e":-232.2197},{"s":"e","x":174,"e":-232.2202},{"s":"e","x":175.6,"e":-232.2199},{"s":"e","x":177,"e":-232.2194},{"s":"e","x":178.5,"e":-232.2196},{"s":"e","x":180,"e":-232.2193},{"s":"e","x":181.5,"e":-232.2198},{"s":"e","x":183,"e":-232.2202},{"s":"e","x":184,"e":-232.2201},{"s":"e","x":185.5,"e":-232.2206},{"s":"e","x":187,"e":-232.22},{"s":"e","x":188.5,"e":-232.2204},{"s":"e","x":190,"e":-232.2209},{"s":"e","x":191.5,"e":-232.2205},{"s":"e","x":192.7,"e":-232.2207},{"s":"e","x":194,"e":-232.221},{"s":"e","x":195.5,"e":-232.2206},{"s":"e","x":197,"e":-232.2212},{"s":"e","x":198.5,"e":-232.2208},{"s":"e","x":200,"e":-232.2204},
{"s":"f","x":52.5,"e":-232.208},{"s":"f","x":54,"e":-232.21},{"s":"f","x":55,"e":-232.211},{"s":"f","x":56,"e":-232.2122},{"s":"f","x":57,"e":-232.2118},{"s":"f","x":58,"e":-232.2115},{"s":"f","x":59,"e":-232.2124},{"s":"f","x":60,"e":-232.213},{"s":"f","x":61,"e":-232.2126},{"s":"f","x":62,"e":-232.2122},{"s":"f","x":63.3,"e":-232.213},{"s":"f","x":64.5,"e":-232.2138},{"s":"f","x":65.5,"e":-232.2144},{"s":"f","x":66.7,"e":-232.2147},{"s":"f","x":67.8,"e":-232.2152},{"s":"f","x":68.8,"e":-232.2155},{"s":"f","x":70,"e":-232.215},{"s":"f","x":71,"e":-232.2152},{"s":"f","x":72,"e":-232.2158},{"s":"f","x":73,"e":-232.216},{"s":"f","x":74,"e":-232.2155},{"s":"f","x":75,"e":-232.2154},{"s":"f","x":76.2,"e":-232.2162},{"s":"f","x":77.4,"e":-232.2168},{"s":"f","x":78.5,"e":-232.2172},{"s":"f","x":79.5,"e":-232.2174},{"s":"f","x":80.5,"e":-232.217},{"s":"f","x":81.6,"e":-232.2168},{"s":"f","x":82.7,"e":-232.2175},{"s":"f","x":83.8,"e":-232.2179},{"s":"f","x":85,"e":-232.2183},{"s":"f","x":86,"e":-232.2185},{"s":"f","x":87,"e":-232.218},{"s":"f","x":88,"e":-232.2179},{"s":"f","x":89,"e":-232.2184},{"s":"f","x":90.2,"e":-232.2188},{"s":"f","x":91.5,"e":-232.2186},{"s":"f","x":93,"e":-232.2189},{"s":"f","x":94.4,"e":-232.219},{"s":"f","x":96,"e":-232.2193},{"s":"f","x":97.5,"e":-232.2195},{"s":"f","x":98.7,"e":-232.2196},{"s":"f","x":100,"e":-232.2194},{"s":"f","x":101.5,"e":-232.2198},{"s":"f","x":103,"e":-232.2201},{"s":"f","x":104.5,"e":-232.22},{"s":"f","x":106,"e":-232.2205},{"s":"f","x":107,"e":-232.2207},{"s":"f","x":108.5,"e":-232.2204},{"s":"f","x":110,"e":-232.2202},{"s":"f","x":111.5,"e":-232.2201},{"s":"f","x":113,"e":-232.2198},{"s":"f","x":114.5,"e":-232.2197},{"s":"f","x":115.8,"e":-232.2196},{"s":"f","x":117,"e":-232.22},{"s":"f","x":118.5,"e":-232.2205},{"s":"f","x":120,"e":-232.2207},{"s":"f","x":121.5,"e":-232.2209},{"s":"f","x":122.5,"e":-232.221},{"s":"f","x":124,"e":-232.2212},{"s":"f","x":125.5,"e":-232.221},{"s":"f","x":127,"e":-232.2214},{"s":"f","x":128.6,"e":-232.2218},{"s":"f","x":130,"e":-232.2215},{"s":"f","x":131.5,"e":-232.2217},{"s":"f","x":133,"e":-232.2219},{"s":"f","x":134.5,"e":-232.2222},{"s":"f","x":136,"e":-232.222},{"s":"f","x":137,"e":-232.2221},{"s":"f","x":138.5,"e":-232.2224},{"s":"f","x":140,"e":-232.2222},{"s":"f","x":141.5,"e":-232.2223},{"s":"f","x":143,"e":-232.222},{"s":"f","x":144.5,"e":-232.2217},{"s":"f","x":145.7,"e":-232.2216},{"s":"f","x":147,"e":-232.2213},{"s":"f","x":148.5,"e":-232.2215},{"s":"f","x":150,"e":-232.2212},{"s":"f","x":151.5,"e":-232.2216},{"s":"f","x":153,"e":-232.2219},{"s":"f","x":154,"e":-232.2218},{"s":"f","x":155.5,"e":-232.2222},{"s":"f","x":157,"e":-232.2226},{"s":"f","x":160,"e":-232.2228},{"s":"f","x":161.5,"e":-232.2225},{"s":"f","x":162.8,"e":-232.2229},{"s":"f","x":164,"e":-232.2223},{"s":"f","x":165.5,"e":-232.2221},{"s":"f","x":167,"e":-232.222},{"s":"f","x":168.5,"e":-232.2224},{"s":"f","x":170,"e":-232.2227},{"s":"f","x":171.5,"e":-232.2225},{"s":"f","x":173,"e":-232.2229},{"s":"f","x":174.5,"e":-232.2233},{"s":"f","x":175.6,"e":-232.2232},{"s":"f","x":177,"e":-232.2228},{"s":"f","x":178.5,"e":-232.2229},{"s":"f","x":180,"e":-232.2233},{"s":"f","x":181.5,"e":-232.2236},{"s":"f","x":183,"e":-232.2232},{"s":"f","x":184,"e":-232.2234},{"s":"f","x":185.5,"e":-232.223},{"s":"f","x":187,"e":-232.2233},{"s":"f","x":188.5,"e":-232.2235},{"s":"f","x":190,"e":-232.2232},{"s":"f","x":191.5,"e":-232.2235},{"s":"f","x":192.7,"e":-232.2237},{"s":"f","x":194,"e":-232.2239},{"s":"f","x":195.5,"e":-232.2235},{"s":"f","x":197,"e":-232.2234},{"s":"f","x":198.5,"e":-232.2238},{"s":"f","x":200,"e":-232.224},
{"s":"g","x":63,"e":-232.208},{"s":"g","x":64.5,"e":-232.21},{"s":"g","x":66,"e":-232.2105},{"s":"g","x":67,"e":-232.2108},{"s":"g","x":68,"e":-232.2116},{"s":"g","x":69,"e":-232.2112},{"s":"g","x":70,"e":-232.2109},{"s":"g","x":71.5,"e":-232.2116},{"s":"g","x":73,"e":-232.2119},{"s":"g","x":74,"e":-232.213},{"s":"g","x":75,"e":-232.2136},{"s":"g","x":76,"e":-232.213},{"s":"g","x":77,"e":-232.2127},{"s":"g","x":78.5,"e":-232.2138},{"s":"g","x":79.5,"e":-232.2144},{"s":"g","x":80.5,"e":-232.214},{"s":"g","x":81.6,"e":-232.2147},{"s":"g","x":82.7,"e":-232.2138},{"s":"g","x":83.8,"e":-232.2133},{"s":"g","x":85,"e":-232.2141},{"s":"g","x":86,"e":-232.2149},{"s":"g","x":87,"e":-232.2153},{"s":"g","x":88,"e":-232.216},{"s":"g","x":89,"e":-232.2156},{"s":"g","x":90.2,"e":-232.2155},{"s":"g","x":91.2,"e":-232.2159},{"s":"g","x":92.3,"e":-232.2163},{"s":"g","x":93.5,"e":-232.216},{"s":"g","x":95,"e":-232.2158},{"s":"g","x":96.5,"e":-232.2164},{"s":"g","x":98.7,"e":-232.2168},{"s":"g","x":99.5,"e":-232.2163},{"s":"g","x":100.5,"e":-232.2164},{"s":"g","x":102,"e":-232.217},{"s":"g","x":103,"e":-232.2174},{"s":"g","x":104.5,"e":-232.2176},{"s":"g","x":105.5,"e":-232.2172},{"s":"g","x":107,"e":-232.2182},{"s":"g","x":108.5,"e":-232.2184},{"s":"g","x":110,"e":-232.2181},{"s":"g","x":111.5,"e":-232.2188},{"s":"g","x":113,"e":-232.2193},{"s":"g","x":114.5,"e":-232.2189},{"s":"g","x":115.8,"e":-232.2193},{"s":"g","x":117,"e":-232.2191},{"s":"g","x":118.5,"e":-232.2187},{"s":"g","x":120,"e":-232.219},{"s":"g","x":121.5,"e":-232.2196},{"s":"g","x":122.5,"e":-232.2195},{"s":"g","x":124,"e":-232.2199},{"s":"g","x":125.5,"e":-232.2202},{"s":"g","x":127,"e":-232.2198},{"s":"g","x":128.6,"e":-232.2204},{"s":"g","x":130,"e":-232.22},{"s":"g","x":131.5,"e":-232.2194},{"s":"g","x":133,"e":-232.2193},{"s":"g","x":134.5,"e":-232.2199},{"s":"g","x":136,"e":-232.2204},{"s":"g","x":137,"e":-232.2201},{"s":"g","x":138.5,"e":-232.2206},{"s":"g","x":140,"e":-232.2209},{"s":"g","x":141.5,"e":-232.2207},{"s":"g","x":143,"e":-232.2203},{"s":"g","x":144.5,"e":-232.2198},{"s":"g","x":145.7,"e":-232.2199},{"s":"g","x":147,"e":-232.2206},{"s":"g","x":148.5,"e":-232.2212},{"s":"g","x":150,"e":-232.221},{"s":"g","x":151.5,"e":-232.2205},{"s":"g","x":153,"e":-232.2203},{"s":"g","x":154,"e":-232.2204},{"s":"g","x":155.5,"e":-232.221},{"s":"g","x":157,"e":-232.2214},{"s":"g","x":158.5,"e":-232.2212},{"s":"g","x":160,"e":-232.2208},{"s":"g","x":161.5,"e":-232.221},{"s":"g","x":164,"e":-232.2215},{"s":"g","x":165.5,"e":-232.2219},{"s":"g","x":167,"e":-232.2218},{"s":"g","x":168.5,"e":-232.2213},{"s":"g","x":170,"e":-232.2214},{"s":"g","x":171.5,"e":-232.2219},{"s":"g","x":173,"e":-232.2223},{"s":"g","x":174.5,"e":-232.2221},{"s":"g","x":177,"e":-232.2216},{"s":"g","x":178.5,"e":-232.222},{"s":"g","x":180,"e":-232.2223},{"s":"g","x":181.5,"e":-232.2226},{"s":"g","x":183,"e":-232.2222},{"s":"g","x":184,"e":-232.2218},{"s":"g","x":185.5,"e":-232.2222},{"s":"g","x":187,"e":-232.2228},{"s":"g","x":188.5,"e":-232.2226},{"s":"g","x":190,"e":-232.2222},{"s":"g","x":191.5,"e":-232.2226},{"s":"g","x":192.7,"e":-232.2229},{"s":"g","x":194,"e":-232.2231},{"s":"g","x":195.5,"e":-232.2226},{"s":"g","x":197,"e":-232.222},{"s":"g","x":198.5,"e":-232.2225},{"s":"g","x":200,"e":-232.2232},
{"s":"h","x":52.5,"e":-232.208},{"s":"h","x":54,"e":-232.21},{"s":"h","x":55,"e":-232.2112},{"s":"h","x":56,"e":-232.2119},{"s":"h","x":57,"e":-232.2115},{"s":"h","x":58,"e":-232.2125},{"s":"h","x":59,"e":-232.2128},{"s":"h","x":60,"e":-232.2133},{"s":"h","x":61,"e":-232.213},{"s":"h","x":62.5,"e":-232.2136},{"s":"h","x":64.5,"e":-232.2141},{"s":"h","x":65.5,"e":-232.2146},{"s":"h","x":66.7,"e":-232.2149},{"s":"h","x":67.8,"e":-232.2154},{"s":"h","x":68.8,"e":-232.216},{"s":"h","x":70,"e":-232.2158},{"s":"h","x":71,"e":-232.2156},{"s":"h","x":72,"e":-232.2163},{"s":"h","x":73,"e":-232.2168},{"s":"h","x":74,"e":-232.2173},{"s":"h","x":75,"e":-232.2177},{"s":"h","x":76.2,"e":-232.218},{"s":"h","x":77.4,"e":-232.2182},{"s":"h","x":78.5,"e":-232.218},{"s":"h","x":79.5,"e":-232.2175},{"s":"h","x":80.5,"e":-232.2174},{"s":"h","x":81.6,"e":-232.217},{"s":"h","x":82.7,"e":-232.2172},{"s":"h","x":83.8,"e":-232.2171},{"s":"h","x":85,"e":-232.2178},{"s":"h","x":86,"e":-232.2184},{"s":"h","x":87,"e":-232.2187},{"s":"h","x":88,"e":-232.219},{"s":"h","x":89,"e":-232.2191},{"s":"h","x":90.2,"e":-232.2193},{"s":"h","x":91.5,"e":-232.2195},{"s":"h","x":93,"e":-232.2198},{"s":"h","x":94.4,"e":-232.2199},{"s":"h","x":96,"e":-232.22},{"s":"h","x":97.5,"e":-232.2198},{"s":"h","x":98.7,"e":-232.2201},{"s":"h","x":100,"e":-232.2204},{"s":"h","x":101.5,"e":-232.2201},{"s":"h","x":103,"e":-232.2204},{"s":"h","x":104.5,"e":-232.2207},{"s":"h","x":106,"e":-232.221},{"s":"h","x":108.5,"e":-232.2206},{"s":"h","x":110,"e":-232.2209},{"s":"h","x":111.5,"e":-232.2213},{"s":"h","x":113,"e":-232.2212},{"s":"h","x":114.5,"e":-232.2216},{"s":"h","x":115.8,"e":-232.2215},{"s":"h","x":117,"e":-232.2213},{"s":"h","x":118.5,"e":-232.2217},{"s":"h","x":120,"e":-232.2218},{"s":"h","x":121.5,"e":-232.2222},{"s":"h","x":122.5,"e":-232.222},{"s":"h","x":124,"e":-232.2223},{"s":"h","x":125.5,"e":-232.2226},{"s":"h","x":127,"e":-232.2222},{"s":"h","x":128.6,"e":-232.222},{"s":"h","x":130,"e":-232.2223},{"s":"h","x":131.5,"e":-232.2226},{"s":"h","x":134.5,"e":-232.2229},{"s":"h","x":136,"e":-232.2227},{"s":"h","x":137,"e":-232.2229},{"s":"h","x":138.5,"e":-232.2226},{"s":"h","x":140,"e":-232.2223},{"s":"h","x":143,"e":-232.2226},{"s":"h","x":144.5,"e":-232.2229},{"s":"h","x":147,"e":-232.2231},{"s":"h","x":148.5,"e":-232.2234},{"s":"h","x":151.5,"e":-232.223},{"s":"h","x":153,"e":-232.2232},{"s":"h","x":154,"e":-232.2235},{"s":"h","x":155.5,"e":-232.2233},{"s":"h","x":157,"e":-232.2236},{"s":"h","x":158.5,"e":-232.2237},{"s":"h","x":160,"e":-232.2233},{"s":"h","x":161.5,"e":-232.2235},{"s":"h","x":164,"e":-232.2238},{"s":"h","x":165.5,"e":-232.2239},{"s":"h","x":167,"e":-232.224},{"s":"h","x":168.5,"e":-232.2237},{"s":"h","x":170,"e":-232.2235},{"s":"h","x":171.5,"e":-232.2238},{"s":"h","x":173,"e":-232.2241},{"s":"h","x":174.5,"e":-232.2243},{"s":"h","x":177,"e":-232.224},{"s":"h","x":178.5,"e":-232.2238},{"s":"h","x":180,"e":-232.2241},{"s":"h","x":181.5,"e":-232.2244},{"s":"h","x":183,"e":-232.2246},{"s":"h","x":185.5,"e":-232.2242},{"s":"h","x":187,"e":-232.2244},{"s":"h","x":188.5,"e":-232.2248},{"s":"h","x":190,"e":-232.2249},{"s":"h","x":191.5,"e":-232.2245},{"s":"h","x":192.7,"e":-232.2248},{"s":"h","x":194,"e":-232.2246},{"s":"h","x":195.5,"e":-232.2243},{"s":"h","x":197,"e":-232.2246},{"s":"h","x":198.5,"e":-232.2249},{"s":"h","x":200,"e":-232.2242},
{"s":"i","x":29,"e":-232.207},{"s":"i","x":30.3,"e":-232.21},{"s":"i","x":31,"e":-232.2135},{"s":"i","x":31.4,"e":-232.2149},{"s":"i","x":32,"e":-232.2125},{"s":"i","x":32.5,"e":-232.2119},{"s":"i","x":33.5,"e":-232.2141},{"s":"i","x":34.5,"e":-232.213},{"s":"i","x":35.5,"e":-232.2146},{"s":"i","x":36.8,"e":-232.2155},{"s":"i","x":38,"e":-232.2175},{"s":"i","x":39,"e":-232.2182},{"s":"i","x":40,"e":-232.217},{"s":"i","x":41,"e":-232.2186},{"s":"i","x":42,"e":-232.2195},{"s":"i","x":43,"e":-232.2201},{"s":"i","x":44,"e":-232.2188},{"s":"i","x":45,"e":-232.2196},{"s":"i","x":46,"e":-232.2206},{"s":"i","x":47.4,"e":-232.221},{"s":"i","x":48.5,"e":-232.2201},{"s":"i","x":49.6,"e":-232.2253},{"s":"i","x":50.5,"e":-232.2239},{"s":"i","x":51.7,"e":-232.2229},{"s":"i","x":52.7,"e":-232.2245},{"s":"i","x":53.8,"e":-232.2242},{"s":"i","x":54.8,"e":-232.2227},{"s":"i","x":56,"e":-232.2234},{"s":"i","x":57,"e":-232.225},{"s":"i","x":58,"e":-232.2256},{"s":"i","x":59,"e":-232.2242},{"s":"i","x":60,"e":-232.224},{"s":"i","x":61.2,"e":-232.2259},{"s":"i","x":62.4,"e":-232.2262},{"s":"i","x":63.5,"e":-232.225},{"s":"i","x":64.5,"e":-232.2256},{"s":"i","x":65.5,"e":-232.2269},{"s":"i","x":66.7,"e":-232.2264},{"s":"i","x":67.8,"e":-232.227},{"s":"i","x":68.8,"e":-232.2278},{"s":"i","x":70,"e":-232.2266},{"s":"i","x":71,"e":-232.2273},{"s":"i","x":72,"e":-232.2285},{"s":"i","x":73,"e":-232.2281},{"s":"i","x":74,"e":-232.2269},{"s":"i","x":75,"e":-232.2267},{"s":"i","x":76.2,"e":-232.2283},{"s":"i","x":77.4,"e":-232.2292},{"s":"i","x":78.5,"e":-232.2276},{"s":"i","x":79.5,"e":-232.2281},{"s":"i","x":80.5,"e":-232.2296},{"s":"i","x":81.6,"e":-232.2292},{"s":"i","x":82.7,"e":-232.2279},{"s":"i","x":83.8,"e":-232.2284},{"s":"i","x":85,"e":-232.2299},{"s":"i","x":86,"e":-232.2297},{"s":"i","x":87,"e":-232.2287},{"s":"i","x":88,"e":-232.2303},{"s":"i","x":89,"e":-232.2308},{"s":"i","x":90.2,"e":-232.2295},{"s":"i","x":91.2,"e":-232.2302},{"s":"i","x":92.3,"e":-232.2305},{"s":"i","x":93.4,"e":-232.2293},{"s":"i","x":94.4,"e":-232.23},{"s":"i","x":95.5,"e":-232.2309},{"s":"i","x":96.6,"e":-232.2292},{"s":"i","x":97.6,"e":-232.2302},{"s":"i","x":98.7,"e":-232.2303},{"s":"i","x":99.4,"e":-232.229},{"s":"i","x":100,"e":-232.23}
]
},
"hconcat":[
{
"width":653,"height":949,
"title":"Fe",
"data":{"name":"fe"},
"transform":[{"lookup":"s","from":{"data":{"name":"names"},"key":"s","fields":["name"]}}],
"mark":{"type":"line","strokeWidth":3,"clip":true},
"encoding":{
"x":{"field":"x","type":"quantitative","scale":{"domain":[-6,209.5],"nice":false,"zero":false},"axis":{"values":[0,50,100,150,200],"title":"Iterations (thousand)","labelPadding":5,"titlePadding":10}},
"y":{"field":"e","type":"quantitative","scale":{"domain":[-1263.665,-1263.63],"nice":false,"zero":false},"axis":{"values":[-1263.665,-1263.66,-1263.655,-1263.65,-1263.645,-1263.64,-1263.635,-1263.63],"format":".3f","title":"Energy (a.u.)","labelPadding":10,"titleX":-310}},
"color":{"field":"name","type":"nominal","scale":{"domain":["ΨF, LN, Pfau","ΨF, LN, Gerard","ΨF, no LN, Pfau","ΨF, no LN, Gerard","FN, Pfau","FN, Gerard","FN+SN, Pfau","FN+SN, Gerard","FN+SN (original)"],"range":["#1414f0","#10108c","#8148e6","#4b1595","#f4a430","#d4a44a","#e01818","#8b1a1a","#7fd34e"]}}
}
},
{
"width":653,"height":949,
"title":"Benzene",
"data":{"name":"bz"},
"transform":[{"lookup":"s","from":{"data":{"name":"names"},"key":"s","fields":["name"]}}],
"mark":{"type":"line","strokeWidth":3,"clip":true},
"encoding":{
"x":{"field":"x","type":"quantitative","scale":{"domain":[-8.2,210.6],"nice":false,"zero":false},"axis":{"values":[0,50,100,150,200],"title":"Iterations (thousand)","labelPadding":5,"titlePadding":10}},
"y":{"field":"e","type":"quantitative","scale":{"domain":[-232.245,-232.21],"nice":false,"zero":false},"axis":{"values":[-232.245,-232.24,-232.235,-232.23,-232.225,-232.22,-232.215,-232.21],"format":".3f","title":null,"labelPadding":10}},
"color":{"field":"name","type":"nominal","scale":{"domain":["ΨF, LN, Pfau","ΨF, LN, Gerard","ΨF, no LN, Pfau","ΨF, no LN, Gerard","FN, Pfau","FN, Gerard","FN+SN, Pfau","FN+SN, Gerard","FN+SN (original)"],"range":["#1414f0","#10108c","#8148e6","#4b1595","#f4a430","#d4a44a","#e01818","#8b1a1a","#7fd34e"]}}
}
}
],
"spacing":301,
"bounds":"flush",
"resolve":{"scale":{"x":"independent","y":"independent"}}
}
